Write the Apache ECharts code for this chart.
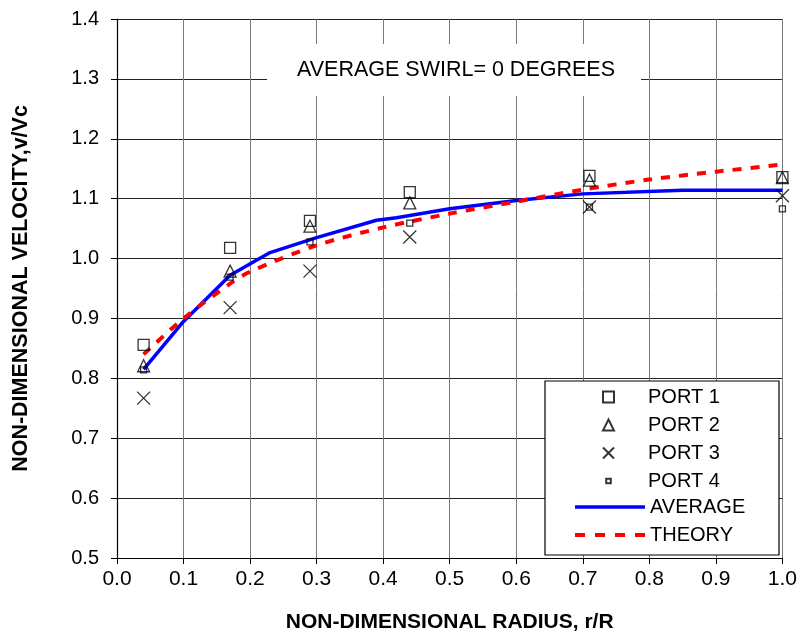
<!DOCTYPE html>
<html>
<head>
<meta charset="utf-8">
<script src="https://cdn.jsdelivr.net/npm/echarts@6/dist/echarts.min.js"></script>
<style>html,body{margin:0;padding:0;background:#fff}#c{width:800px;height:640px}</style>
</head>
<body>
<div id="c"></div>
<script>
var radius = [0.04, 0.17, 0.29, 0.44, 0.71, 1.0];
var port1 = [0.856, 1.018, 1.063, 1.111, 1.138, 1.136];
var port2 = [0.821, 0.979, 1.054, 1.093, 1.131, 1.135];
var port3 = [0.767, 0.918, 0.979, 1.036, 1.086, 1.105];
var port4 = [0.814, 0.969, 1.028, 1.059, 1.086, 1.083];
var avgX = [0.04, 0.10, 0.17, 0.23, 0.30, 0.39, 0.42, 0.50, 0.60, 0.70, 0.85, 1.00];
var avgY = [0.815, 0.895, 0.972, 1.010, 1.035, 1.064, 1.068, 1.083, 1.097, 1.108, 1.114, 1.114];
var thX = [0.04, 0.10, 0.17, 0.20, 0.30, 0.40, 0.50, 0.60, 0.70, 0.80, 0.90, 1.00];
var thY = [0.840, 0.900, 0.958, 0.978, 1.022, 1.052, 1.075, 1.095, 1.115, 1.132, 1.145, 1.157];
var xTicks = [0.0, 0.1, 0.2, 0.3, 0.4, 0.5, 0.6, 0.7, 0.8, 0.9, 1.0];
var yTicks = [0.5, 0.6, 0.7, 0.8, 0.9, 1.0, 1.1, 1.2, 1.3, 1.4];

function pairs(xs, ys) { return xs.map(function (x, i) { return [x, ys[i]]; }); }

var FONT = 'Liberation Sans, Arial, sans-serif';
var chart = echarts.init(document.getElementById('c'), null, {renderer: 'canvas'});
var crossPath = 'path://M0,0L10,10M10,0L0,10';
var smallSq = 'path://M0,0M12,12M3.5,3.5L8.5,3.5L8.5,8.5L3.5,8.5Z';

var scatterStyle = {color: 'transparent', borderColor: '#000', borderWidth: 1.3};

chart.setOption({
  animation: false,
  backgroundColor: '#fff',
  textStyle: {fontFamily: FONT},
  grid: {left: 117, right: 17, top: 19, bottom: 82, containLabel: false},
  xAxis: {
    type: 'value', min: xTicks[0], max: xTicks[xTicks.length - 1], interval: 0.1,
    name: 'NON-DIMENSIONAL RADIUS, r/R', nameLocation: 'middle', nameGap: 54,
    nameTextStyle: {fontFamily: FONT, fontWeight: 'bold', fontSize: 21, color: '#000'},
    axisLine: {lineStyle: {color: '#000', width: 1.2}},
    axisTick: {show: true, length: 6, lineStyle: {color: '#000'}},
    axisLabel: {fontFamily: FONT, fontSize: 21, color: '#000', margin: 11,
      formatter: function (v) { return v.toFixed(1); }},
    splitLine: {show: true, lineStyle: {color: '#7a7a7a', width: 1}}
  },
  yAxis: {
    type: 'value', min: yTicks[0], max: yTicks[yTicks.length - 1], interval: 0.1,
    name: 'NON-DIMENSIONAL VELOCITY,v/Vc', nameLocation: 'middle', nameGap: 85, nameRotate: 90,
    nameTextStyle: {fontFamily: FONT, fontWeight: 'bold', fontSize: 21.5, color: '#000'},
    axisLine: {show: true, lineStyle: {color: '#000', width: 1.2}},
    axisTick: {show: true, length: 6, lineStyle: {color: '#000'}},
    axisLabel: {fontFamily: FONT, fontSize: 20, color: '#000', margin: 18,
      formatter: function (v) { return v.toFixed(1); }},
    splitLine: {show: true, lineStyle: {color: '#222', width: 1}}
  },
  legend: [{
    orient: 'vertical', left: 602, top: 387, padding: 0, itemWidth: 11, itemHeight: 11, itemGap: 8,
    textStyle: {fontFamily: FONT, fontSize: 20, color: '#000', lineHeight: 20, padding: [0, 0, 0, 29]},
    data: [
      {name: 'PORT 1', icon: 'rect'},
      {name: 'PORT 2', icon: 'triangle'},
      {name: 'PORT 3', icon: crossPath},
      {name: 'PORT 4', icon: smallSq}
    ]
  }, {
    orient: 'vertical', left: 573, top: 497, padding: 0, itemWidth: 70, itemHeight: 14, itemGap: 8,
    textStyle: {fontFamily: FONT, fontSize: 20, color: '#000', lineHeight: 20},
    data: [
      {name: 'AVERAGE', itemStyle: {opacity: 0}, lineStyle: {width: 3.5, color: '#0000ff'}},
      {name: 'THEORY', itemStyle: {opacity: 0}, lineStyle: {width: 4, color: '#ff0000', type: [10, 10]}}
    ]
  }],
  graphic: [
    {type: 'rect', z: 3, shape: {x: 545, y: 381, width: 234, height: 174},
     style: {fill: '#fff', stroke: '#000', lineWidth: 1.2}},
    {type: 'rect', z: 3, shape: {x: 267, y: 44, width: 374, height: 52},
     style: {fill: '#fff', stroke: null}},
    {type: 'text', z: 4, x: 456, y: 70,
     style: {text: 'AVERAGE SWIRL= 0 DEGREES', fontFamily: FONT, fontSize: 21.5, fill: '#000',
       textAlign: 'center', textVerticalAlign: 'middle'}}
  ],
  series: [
    {name: 'PORT 1', type: 'scatter', symbol: 'rect', symbolSize: 11, itemStyle: scatterStyle,
     data: pairs(radius, port1), z: 5},
    {name: 'PORT 2', type: 'scatter', symbol: 'triangle', symbolSize: 12, itemStyle: scatterStyle,
     data: pairs(radius, port2), z: 5},
    {name: 'PORT 3', type: 'scatter', symbol: crossPath, symbolSize: 13, itemStyle: scatterStyle,
     data: pairs(radius, port3), z: 5},
    {name: 'PORT 4', type: 'scatter', symbol: 'rect', symbolSize: 6, itemStyle: scatterStyle,
     data: pairs(radius, port4), z: 5},
    {name: 'AVERAGE', type: 'line', symbol: 'none', smooth: false,
     lineStyle: {color: '#0000ff', width: 3.5}, itemStyle: {color: '#0000ff'},
     data: pairs(avgX, avgY), z: 3},
    {name: 'THEORY', type: 'line', symbol: 'none', smooth: 0.3,
     lineStyle: {color: '#ff0000', width: 4, type: [9, 9]}, itemStyle: {color: '#ff0000'},
     data: pairs(thX, thY), z: 4}
  ]
});
</script>
</body>
</html>
